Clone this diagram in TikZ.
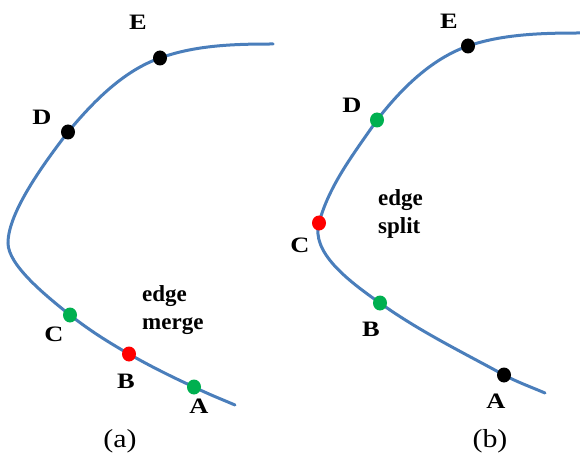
\documentclass[tikz,border=0pt]{standalone}
\usepackage{fontspec}
\setmainfont{Liberation Serif}
\newfontfamily\labelfont[FakeStretch=1.2]{Liberation Serif}
\newfontfamily\panelfont[FakeStretch=1.15]{Liberation Serif}
\usepackage{tikz}
\usetikzlibrary{
  shapes.geometric,
  backgrounds
}
\definecolor{CurveBlue}{HTML}{4A7EBB}
\definecolor{DotGreen}{HTML}{00B050}
\definecolor{DotRed}{HTML}{FF0000}
\tikzset{
  curve/.style={
    draw=CurveBlue,
    line width=3pt,
    line cap=round
  },
  point/.style={
    ellipse,
    inner sep=0pt,
    minimum width=14pt,
    minimum height=15pt
  },
  fixedpoint/.style={
    point,
    fill=black
  },
  movedpoint/.style={
    point,
    fill=DotGreen
  },
  eventpoint/.style={
    point,
    fill=DotRed
  },
  letter/.style={
    font=\labelfont\fontsize{22}{22}\selectfont\bfseries
  },
  operation/.style={
    font=\fontsize{23}{28}\selectfont\bfseries,
    align=left,
    anchor=west,
    inner sep=0pt
  },
  panel/.style={
    font=\panelfont\fontsize{26}{26}\selectfont
  }
}

\begin{document}
\begin{tikzpicture}[
  x=1pt,
  y=-1pt
]

  \useasboundingbox (0,0) rectangle (580,462);

  % (a) edge merge
  \node[fixedpoint] (aE) at (160,58) {};
  \node[fixedpoint] (aD) at (68,132) {};
  \node[movedpoint] (aC) at (70,315) {};
  \node[eventpoint] (aB) at (129,354) {};
  \node[movedpoint] (aA) at (194,387) {};

  \node[letter] (aElabel) at (138,22) {E};
  \node[letter] (aDlabel) at (42,117) {D};
  \node[letter] (aClabel) at (54,334) {C};
  \node[letter] (aBlabel) at (126,381) {B};
  \node[letter] (aAlabel) at (199,406) {A};

  \node[operation] (merge) at (142,310) {edge\\merge};
  \node[panel] (panela) at (120,441) {(a)};

  \coordinate (aStart) at (273,44);
  \coordinate (aTurn) at (8,243);
  \coordinate (aEnd) at (235,405);

  % (b) edge split
  \node[fixedpoint] (bE) at (468,46) {};
  \node[movedpoint] (bD) at (377,120) {};
  \node[eventpoint] (bC) at (319,223) {};
  \node[movedpoint] (bB) at (380,303) {};
  \node[fixedpoint] (bA) at (504,375) {};

  \node[letter] (bElabel) at (449,21) {E};
  \node[letter] (bDlabel) at (352,105) {D};
  \node[letter] (bClabel) at (300,245) {C};
  \node[letter] (bBlabel) at (371,329) {B};
  \node[letter] (bAlabel) at (496,401) {A};

  \node[operation] (split) at (378,214) {edge\\split};
  \node[panel] (panelb) at (490,441) {(b)};

  \coordinate (bStart) at (580,33);
  \coordinate (bEnd) at (545,393);

  \begin{scope}[on background layer]
    \draw[curve]
      (aStart) .. controls (235,44) and (196,45) .. (aE.center)
      .. controls (123,71) and (93,102) .. (aD.center)
      .. controls (45,162) and (8,212) .. (aTurn)
      .. controls (8,265) and (45,295) .. (aC.center)
      .. controls (89,330) and (108,342) .. (aB.center)
      .. controls (150,366) and (172,377) .. (aA.center)
      .. controls (208,394) and (221,399) .. (aEnd);
    \draw[curve]
      (bStart) .. controls (543,33) and (503,34) .. (bE.center)
      .. controls (431,59) and (401,89) .. (bD.center)
      .. controls (355,152) and (329,185) .. (bC.center)
      .. controls (311,252) and (347,280) .. (bB.center)
      .. controls (419,331) and (462,352) .. (bA.center)
      .. controls (517,382) and (531,387) .. (bEnd);
  \end{scope}

\end{tikzpicture}
\end{document}
